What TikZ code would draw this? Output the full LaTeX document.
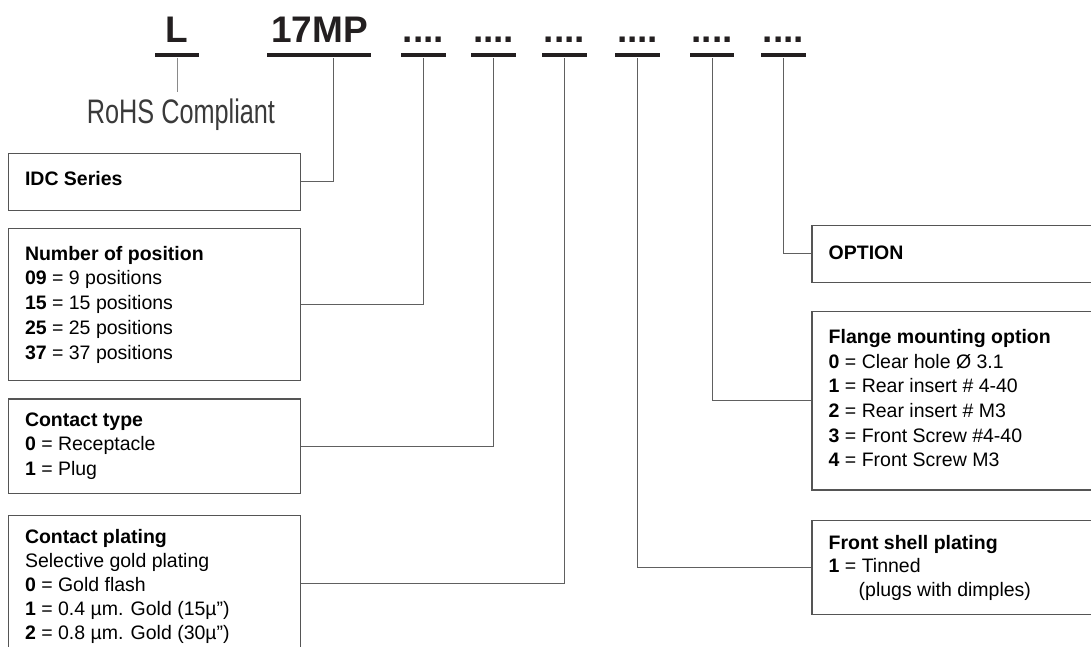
\documentclass[tikz,border=0pt]{standalone}
\usepackage{fontspec}
\usepackage{graphicx}
\setmainfont{Liberation Sans}
\definecolor{ink}{HTML}{231F20}
\definecolor{boxline}{HTML}{555555}
\definecolor{connline}{HTML}{606060}
\definecolor{lightline}{HTML}{8A8A8A}
\definecolor{rohsgray}{HTML}{3A3A3A}
\newcommand\linestack[2]{\vtop{\baselineskip=#1pt\lineskiplimit=-30pt\lineskip=0pt\halign{##\hfil\cr#2\crcr}}}
\begin{document}
\begin{tikzpicture}[x=1pt,y=-1pt,
  code/.style={anchor=base,inner sep=0pt,text=ink,font=\fontsize{37}{40}\selectfont\bfseries},
  uline/.style={fill=ink,draw=none,inner sep=0pt,minimum height=4pt,minimum width=44.6pt},
  infobox/.style={draw=boxline,line width=1.2pt,inner sep=0pt,anchor=north west,minimum width=292.4pt},
  rbox/.style={draw=boxline,line width=1.2pt,inner sep=0pt,anchor=north west,minimum width=320pt},
  txt/.style={anchor=base west,inner sep=0pt,text=black,font=\fontsize{19.5}{24}\selectfont},
  conn/.style={draw=connline,line width=1pt},
  rohs/.style={anchor=base,inner xsep=0pt,inner ysep=6.5pt,text=rohsgray,font=\fontsize{34}{36}\selectfont}]
\useasboundingbox (0,0) rectangle (1091,646);

% header codes
\node[code] (cL) at (177,42.3) {L};
\node[code] (c1) at (319.5,42.3) {17MP};
\node[code] (c2) at (423.4,42.3) {....};
\node[code] (c3) at (493.6,42.3) {....};
\node[code] (c4) at (564.5,42.3) {....};
\node[code] (c5) at (637.6,42.3) {....};
\node[code] (c6) at (712,42.3) {....};
\node[code] (c7) at (783.5,42.3) {....};

% underlines
\node[uline,minimum width=44pt] (u0) at (177,55.3) {};
\node[uline,minimum width=104pt] (u1) at (319,55.3) {};
\node[uline] (u2) at (423.4,55.3) {};
\node[uline] (u3) at (493.6,55.3) {};
\node[uline] (u4) at (564.5,55.3) {};
\node[uline] (u5) at (637.6,55.3) {};
\node[uline] (u6) at (712,55.3) {};
\node[uline] (u7) at (783.5,55.3) {};

% RoHS
\node[rohs] (rohs) at (181,123) {\scalebox{0.743}[1]{RoHS Compliant}};
\draw[draw=lightline,line width=1pt] (u0.south) -- (u0.south |- rohs.north);

% left boxes
\node[infobox,minimum height=57.3pt] (idc) at (7.6,152.7) {};
\node[infobox,minimum height=152.3pt] (npos) at (7.6,227.7) {};
\node[infobox,minimum height=94.4pt] (ctype) at (7.6,398.3) {};
\node[infobox,minimum height=135.4pt] (cplat) at (7.6,515) {};

% right boxes
\node[rbox,minimum height=56.7pt] (option) at (811.4,225) {};
\node[rbox,minimum height=178.6pt] (flange) at (811.4,310.7) {};
\node[rbox,minimum height=94pt] (front) at (811.4,520) {};

% texts
\node[txt] (tidc) at (24.8,185.7) {\textbf{IDC Series}};
\node[txt] (tnpos) at (24.8,260) {\linestack{24.75}{\textbf{Number of position}\cr
  \textbf{09} = 9 positions\cr
  \textbf{15} = 15 positions\cr
  \textbf{25} = 25 positions\cr
  \textbf{37} = 37 positions}};
\node[txt] (tctype) at (24.8,426) {\linestack{24.8}{\textbf{Contact type}\cr
  \textbf{0} = Receptacle\cr
  \textbf{1} = Plug}};
\node[txt] (tcplat) at (24.8,543.3) {\linestack{24}{\textbf{Contact plating}\cr
  Selective gold plating\cr
  \textbf{0} = Gold flash\cr
  \textbf{1} = 0.4 µm. Gold (15µ”)\cr
  \textbf{2} = 0.8 µm. Gold (30µ”)}};
\node[txt] (toption) at (828.5,259) {\textbf{OPTION}};
\node[txt] (tflange) at (828.5,343.3) {\linestack{24.7}{\textbf{Flange mounting option}\cr
  \textbf{0} = Clear hole Ø 3.1\cr
  \textbf{1} = Rear insert \# 4-40\cr
  \textbf{2} = Rear insert \# M3\cr
  \textbf{3} = Front Screw \#4-40\cr
  \textbf{4} = Front Screw M3}};
\node[txt] (tfront) at (828.5,549) {\linestack{23.9}{\textbf{Front shell plating}\cr
  \textbf{1} = Tinned\cr
  \hskip30pt(plugs with dimples)}};

% connectors
\draw[conn] (idc.east) -| ([xshift=14pt]u1.south);
\draw[conn] (npos.east) -| (u2.south);
\draw[conn] (ctype.east) -| (u3.south);
\draw[conn] (cplat.east) -| (u4.south);
\draw[conn] (front.west) -| (u5.south);
\draw[conn] (flange.west) -| (u6.south);
\draw[conn] (option.west) -| (u7.south);
\end{tikzpicture}
\end{document}
